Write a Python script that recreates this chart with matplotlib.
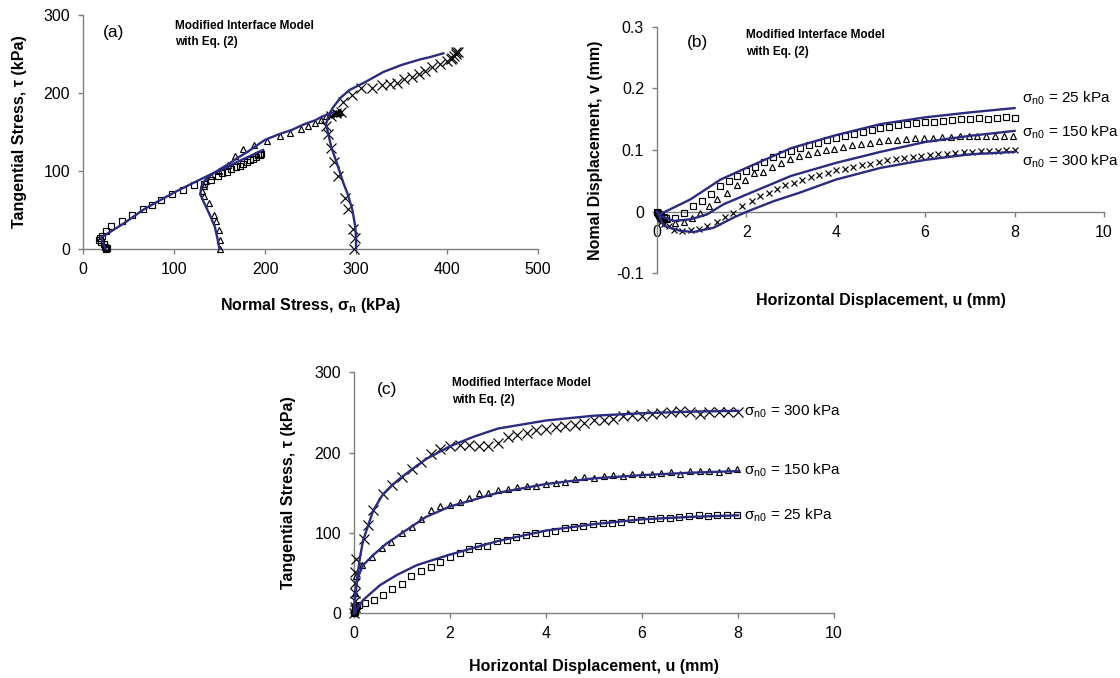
import matplotlib
matplotlib.use("Agg")
import matplotlib.pyplot as plt

plt.rcParams['font.family'] = ['Liberation Sans', 'DejaVu Sans']
plt.rcParams['mathtext.fontset'] = 'custom'
plt.rcParams['mathtext.rm'] = 'Liberation Sans'
plt.rcParams['mathtext.it'] = 'Liberation Sans'
plt.rcParams['mathtext.bf'] = 'Liberation Sans:bold'

# ---------------- Panel (a): tau vs sigma_n ----------------
a_sq_s = [25, 26, 24, 23, 20, 18, 19, 21, 25, 31, 43, 54, 66, 76, 86, 98, 110, 122, 133, 141,
          148, 153, 158, 163, 168, 172, 176, 180, 184, 187, 190, 192, 194, 195, 196]
a_sq_t = [0, 1, 3, 6, 9, 12, 14, 17, 23, 29, 36, 44, 51, 57, 63, 71, 76, 82, 83, 88,
          93, 97, 99, 102, 105, 107, 109, 112, 114, 116, 118, 120, 121, 122, 122]
a_tr_s = [150, 150, 149, 146, 144, 139, 133, 131, 133, 135, 141, 149, 159, 167, 176, 188, 202, 216,
          227, 239, 247, 255, 261, 267, 272, 276, 278, 280, 281, 282]
a_tr_t = [0, 12, 25, 36, 43, 59, 68, 74, 81, 87, 93, 100, 108, 119, 128, 134, 138, 145,
          149, 154, 158, 162, 165, 170, 173, 174, 175, 175, 176, 176]
a_x_s = [298, 299, 297, 291, 288, 280, 276, 272, 269, 267, 272, 278, 283, 286, 296, 306, 318, 329,
         337, 345, 353, 361, 369, 376, 384, 392, 400, 404, 406, 408, 410, 412, 410]
a_x_t = [0, 14, 26, 51, 66, 93, 111, 130, 147, 158, 171, 174, 176, 188, 198, 206, 207, 210,
         211, 213, 218, 221, 224, 228, 233, 237, 241, 244, 245, 248, 250, 252, 253]
a_l25_s = [25, 22, 20, 30, 45, 67, 90, 106, 125, 141, 155, 170, 185, 198]
a_l25_t = [0, 8, 15, 22, 33, 51, 66, 76, 87, 96, 103, 112, 120, 127]
a_l150_s = [150, 148, 145, 140, 136, 132, 129, 130, 134, 140, 150, 160, 170, 180, 190, 200,
            215, 230, 243, 255, 263, 270, 275]
a_l150_t = [0, 12, 28, 42, 52, 62, 70, 80, 88, 95, 102, 109, 117, 124, 132, 140,
            147, 153, 160, 165, 170, 173, 175]
a_l300_s = [300, 300, 299, 296, 291, 286, 279, 273, 269, 267, 270, 275, 283, 293, 310, 330,
            350, 370, 381, 390, 396]
a_l300_t = [0, 15, 30, 50, 70, 85, 110, 130, 150, 160, 172, 182, 194, 204, 214, 227,
            236, 243, 246, 249, 251]

# ---------------- Panel (b): v vs u ----------------
b_sq_u = [0, 0.02, 0.04, 0.06, 0.08, 0.1, 0.15, 0.2, 0.4, 0.6, 0.8, 1.0, 1.2, 1.4, 1.6, 1.8, 2.0,
          2.2, 2.4, 2.6, 2.8, 3.0, 3.2, 3.4, 3.6, 3.8, 4.0, 4.2, 4.4, 4.6, 4.8, 5.0, 5.2, 5.4,
          5.6, 5.8, 6.0, 6.2, 6.4, 6.6, 6.8, 7.0, 7.2, 7.4, 7.6, 7.8, 8.0]
b_sq_v = [0, -0.002, -0.004, -0.006, -0.007, -0.008, -0.009, -0.01, -0.01, -0.002, 0.009, 0.018,
          0.029, 0.042, 0.05, 0.058, 0.066, 0.073, 0.081, 0.088, 0.094, 0.099, 0.103, 0.108,
          0.112, 0.117, 0.12, 0.123, 0.126, 0.13, 0.133, 0.136, 0.138, 0.14, 0.142, 0.144,
          0.145, 0.146, 0.147, 0.148, 0.15, 0.151, 0.152, 0.151, 0.152, 0.153, 0.152]
b_tr_u = [0, 0.02, 0.04, 0.06, 0.08, 0.1, 0.15, 0.22, 0.41, 0.6, 0.78, 0.97, 1.16, 1.34, 1.57,
          1.79, 1.97, 2.17, 2.37, 2.57, 2.77, 2.97, 3.17, 3.37, 3.57, 3.77, 3.97, 4.17, 4.37,
          4.57, 4.77, 4.97, 5.17, 5.37, 5.57, 5.77, 5.97, 6.17, 6.37, 6.57, 6.77, 6.97, 7.17,
          7.37, 7.57, 7.77, 7.97]
b_tr_v = [0, -0.002, -0.005, -0.007, -0.009, -0.01, -0.012, -0.0125, -0.018, -0.017, -0.01,
          -0.002, 0.009, 0.02, 0.03, 0.044, 0.052, 0.062, 0.064, 0.073, 0.079, 0.086, 0.09,
          0.093, 0.097, 0.1, 0.102, 0.105, 0.108, 0.11, 0.112, 0.114, 0.116, 0.117, 0.118,
          0.119, 0.12, 0.12, 0.121, 0.121, 0.122, 0.122, 0.122, 0.123, 0.123, 0.123, 0.123]
b_x_u = [0, 0.02, 0.04, 0.06, 0.08, 0.1, 0.15, 0.26, 0.37, 0.56, 0.75, 0.93, 1.12, 1.34, 1.53,
         1.71, 1.9, 2.13, 2.31, 2.5, 2.68, 2.87, 3.06, 3.25, 3.44, 3.63, 3.82, 4.01, 4.2, 4.39,
         4.58, 4.77, 4.96, 5.15, 5.34, 5.53, 5.72, 5.91, 6.1, 6.29, 6.48, 6.67, 6.86, 7.05,
         7.24, 7.43, 7.62, 7.81, 8.0]
b_x_v = [0, -0.003, -0.007, -0.01, -0.013, -0.016, -0.02, -0.023, -0.029, -0.031, -0.03,
         -0.028, -0.023, -0.016, -0.009, -0.002, 0.009, 0.017, 0.025, 0.03, 0.037, 0.044,
         0.047, 0.052, 0.056, 0.06, 0.063, 0.067, 0.07, 0.073, 0.076, 0.078, 0.081, 0.083,
         0.085, 0.087, 0.089, 0.091, 0.092, 0.093, 0.094, 0.095, 0.096, 0.097, 0.098, 0.099,
         0.099, 0.1, 0.1]
b_l25_u = [0, 0.07, 0.37, 0.75, 1.19, 1.42, 2.0, 3.0, 4.0, 5.0, 6.0, 7.0, 8.0]
b_l25_v = [0, -0.004, 0.0065, 0.02, 0.041, 0.052, 0.071, 0.103, 0.124, 0.142, 0.153, 0.161, 0.168]
b_l150_u = [0, 0.07, 0.37, 0.75, 1.12, 1.49, 2.01, 2.54, 3.0, 4.0, 5.0, 6.0, 7.0, 8.0]
b_l150_v = [0, -0.007, -0.015, -0.0125, -0.0044, 0.012, 0.028, 0.044, 0.058, 0.079, 0.097,
            0.113, 0.123, 0.131]
b_l300_u = [0, 0.15, 0.52, 0.82, 1.27, 1.71, 2.01, 2.61, 3.2, 4.0, 5.0, 6.0, 7.0, 8.0]
b_l300_v = [0, -0.023, -0.031, -0.033, -0.026, -0.0097, 0, 0.017, 0.031, 0.052, 0.071, 0.084,
            0.093, 0.097]

# ---------------- Panel (c): tau vs u ----------------
c_sq_u = [0, 0.01, 0.02, 0.03, 0.05, 0.07, 0.11, 0.22, 0.41, 0.61, 0.8, 1.0, 1.19, 1.4, 1.6,
          1.8, 2.0, 2.2, 2.39, 2.59, 2.78, 2.97, 3.19, 3.38, 3.58, 3.78, 3.99, 4.18, 4.39, 4.59,
          4.78, 4.98, 5.19, 5.37, 5.57, 5.78, 5.97, 6.18, 6.38, 6.58, 6.78, 6.98, 7.18, 7.37,
          7.57, 7.78, 7.97]
c_sq_t = [0, 2, 4, 6, 7, 9, 10, 13, 16, 23, 30, 36, 46, 53, 58, 64, 70, 75, 80, 84, 84, 90, 91,
          95, 98, 100, 100, 103, 106, 107, 109, 111, 112, 113, 114, 117, 116, 118, 119, 119, 120,
          121, 122, 121, 122, 122, 122]
c_tr_u = [0, 0.01, 0.02, 0.05, 0.16, 0.37, 0.58, 0.78, 1.0, 1.2, 1.4, 1.6, 1.8, 2.0, 2.2, 2.4,
          2.6, 2.8, 3.0, 3.2, 3.4, 3.6, 3.8, 4.0, 4.2, 4.4, 4.6, 4.8, 5.0, 5.2, 5.4, 5.6, 5.8,
          6.0, 6.2, 6.4, 6.6, 6.8, 7.0, 7.2, 7.4, 7.6, 7.8, 7.97]
c_tr_t = [0, 10, 25, 47, 60, 70, 81, 89, 100, 108, 118, 128, 133, 135, 138, 143, 150, 150,
          153, 155, 157, 158, 159, 161, 162, 164, 167, 170, 168, 171, 172, 171, 173, 174, 174,
          175, 176, 174, 177, 177, 177, 176, 178, 180]
c_x_u = [0, 0.01, 0.02, 0.02, 0.025, 0.03, 0.05, 0.2, 0.3, 0.4, 0.6, 0.8, 1.0, 1.2, 1.4, 1.6,
         1.8, 2.0, 2.2, 2.4, 2.6, 2.8, 3.0, 3.2, 3.4, 3.6, 3.8, 4.0, 4.2, 4.4, 4.6, 4.8, 5.0,
         5.2, 5.4, 5.6, 5.8, 6.0, 6.2, 6.4, 6.6, 6.8, 7.0, 7.2, 7.4, 7.6, 7.8, 8.0]
c_x_t = [0, 8, 15, 25, 38, 52, 68, 92, 110, 128, 148, 160, 170, 180, 188, 198, 205, 208, 210,
         210, 208, 208, 212, 220, 222, 225, 228, 230, 232, 233, 235, 237, 240, 240, 242, 245,
         247, 246, 248, 249, 250, 252, 250, 248, 251, 250, 250, 250]
c_l25_u = [0, 0.02, 0.19, 0.54, 0.89, 1.31, 1.97, 3.0, 4.0, 5.0, 6.0, 7.0, 8.0]
c_l25_t = [0, 2, 16.6, 35, 47.7, 60, 72.6, 90, 103, 111, 117, 120, 122]
c_l150_u = [0, 0.02, 0.07, 0.19, 0.4, 0.68, 1.0, 1.5, 2.0, 3.0, 4.0, 5.0, 6.0, 7.0, 8.0]
c_l150_t = [0, 20.7, 43.6, 60, 72.6, 87, 100, 120, 133, 150, 161, 168, 172, 175, 177]
c_l300_u = [0, 0.02, 0.05, 0.125, 0.19, 0.4, 0.6, 0.8, 1.0, 1.5, 2.0, 2.5, 3.0, 4.0, 5.0, 6.0,
            7.0, 8.0]
c_l300_t = [0, 15, 37, 70, 91, 128, 148, 160, 170, 192, 208, 220, 230, 240, 246, 249, 251, 252]

labels = ['25', '150', '300']
model_text = "Modified Interface Model\nwith Eq. (2)"

LINE = '#2B2B7F'
SPINE = '#7F7F7F'
TICKFS = 11.5
LABFS = 11.5

fig = plt.figure(figsize=(11.2, 6.78), dpi=100)
axa = fig.add_axes([0.0741, 0.6327, 0.4063, 0.3451])
axb = fig.add_axes([0.5866, 0.5969, 0.3991, 0.3637])
axc = fig.add_axes([0.3161, 0.0954, 0.4286, 0.3555])


def style(ax):
    for s in ['top', 'right']:
        ax.spines[s].set_visible(False)
    for s in ['left', 'bottom']:
        ax.spines[s].set_color(SPINE)
        ax.spines[s].set_linewidth(1.0)
    ax.tick_params(direction='out', length=3.3, width=1.0, color=SPINE,
                   labelsize=TICKFS, labelcolor='black')
    ax.tick_params(axis='x', pad=6)
    ax.tick_params(axis='y', pad=6)


def lines_and_markers(ax, series):
    for (lx, ly, mx, my, mk, ms) in series:
        ax.plot(mx, my, linestyle='none', marker=mk, markersize=ms, markerfacecolor='none',
                markeredgecolor='black', markeredgewidth=0.85, zorder=3, clip_on=False)
        ax.plot(lx, ly, color=LINE, linewidth=1.7, zorder=4, clip_on=False)


# (a)
style(axa)
lines_and_markers(axa, [
    (a_l25_s, a_l25_t, a_sq_s, a_sq_t, 's', 4.5),
    (a_l150_s, a_l150_t, a_tr_s, a_tr_t, '^', 5),
    (a_l300_s, a_l300_t, a_x_s, a_x_t, 'x', 7),
])
axa.set_xlim(0, 500)
axa.set_ylim(0, 300)
axa.set_xticks([0, 100, 200, 300, 400, 500])
axa.set_yticks([0, 100, 200, 300])
axa.set_xlabel("Normal Stress, σ$_\\mathbf{n}$ (kPa)", fontsize=LABFS, fontweight='bold')
axa.set_ylabel("Tangential Stress, τ (kPa)", fontsize=LABFS, fontweight='bold')
axa.xaxis.set_label_coords(0.5, -0.2)
axa.yaxis.set_label_coords(-0.123, 0.5)
axa.text(22, 278, "(a)", fontsize=12.5, va='center', ha='left')
axa.text(101, 276, model_text, fontsize=8.5, fontweight='bold', va='center', ha='left',
         linespacing=1.5)

# (b)
style(axb)
lines_and_markers(axb, [
    (b_l25_u, b_l25_v, b_sq_u, b_sq_v, 's', 3.8),
    (b_l150_u, b_l150_v, b_tr_u, b_tr_v, '^', 4.3),
    (b_l300_u, b_l300_v, b_x_u, b_x_v, 'x', 5),
])
axb.spines['bottom'].set_position(('data', 0))
axb.set_xlim(0, 10)
axb.set_ylim(-0.1, 0.3)
axb.set_xticks([0, 2, 4, 6, 8, 10])
axb.set_yticks([-0.1, 0, 0.1, 0.2, 0.3])
axb.set_yticklabels(['-0.1', '0', '0.1', '0.2', '0.3'])
axb.set_xlabel("Horizontal Displacement, u (mm)", fontsize=LABFS, fontweight='bold')
axb.set_ylabel("Nomal Displacement, v (mm)", fontsize=LABFS, fontweight='bold')
axb.xaxis.set_label_coords(0.5, -0.08)
axb.yaxis.set_label_coords(-0.121, 0.5)
axb.text(0.67, 0.274, "(b)", fontsize=12.5, va='center', ha='left')
axb.text(2.0, 0.2725, model_text, fontsize=8.5, fontweight='bold', va='center', ha='left',
         linespacing=1.5)
for lab, yv in zip(labels, [0.184, 0.129, 0.081]):
    axb.text(8.17, yv, "σ$_{\\mathrm{n0}}$ = " + lab + " kPa", fontsize=11, va='center',
             ha='left', clip_on=False)

# (c)
style(axc)
lines_and_markers(axc, [
    (c_l25_u, c_l25_t, c_sq_u, c_sq_t, 's', 4.5),
    (c_l150_u, c_l150_t, c_tr_u, c_tr_t, '^', 5),
    (c_l300_u, c_l300_t, c_x_u, c_x_t, 'x', 7),
])
axc.set_xlim(0, 10)
axc.set_ylim(0, 300)
axc.set_xticks([0, 2, 4, 6, 8, 10])
axc.set_yticks([0, 100, 200, 300])
axc.set_xlabel("Horizontal Displacement, u (mm)", fontsize=LABFS, fontweight='bold')
axc.set_ylabel("Tangential Stress, τ (kPa)", fontsize=LABFS, fontweight='bold')
axc.xaxis.set_label_coords(0.5, -0.19)
axc.yaxis.set_label_coords(-0.12, 0.5)
axc.text(0.48, 278, "(c)", fontsize=12.5, va='center', ha='left')
axc.text(2.05, 276, model_text, fontsize=8.5, fontweight='bold', va='center', ha='left',
         linespacing=1.5)
for lab, yv in zip(labels, [122, 178, 252]):
    axc.text(8.12, yv, "σ$_{\\mathrm{n0}}$ = " + lab + " kPa", fontsize=11, va='center',
             ha='left', clip_on=False)

fig.savefig("out.png", dpi=100, facecolor='white')
